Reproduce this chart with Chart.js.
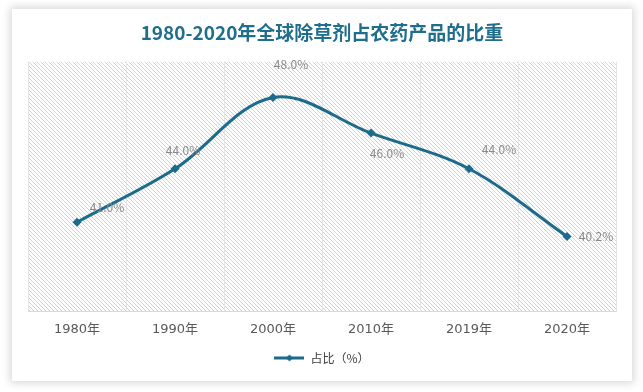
<!DOCTYPE html>
<html>
<head>
<meta charset="utf-8">
<script src="https://cdn.jsdelivr.net/npm/chart.js@4"></script>
<style>
  html, body { margin: 0; padding: 0; background: #ffffff; width: 643px; height: 392px; overflow: hidden; }
  #card { position: absolute; left: 12px; top: 9px; width: 620px; height: 372px; background: #fff;
          box-shadow: 0 0 8px 2px rgba(0,0,0,0.16); }
  canvas { display: block; }
</style>
</head>
<body>
<div id="card"><canvas id="c" width="620" height="372"></canvas></div>
<script>
const categories = ['1980年', '1990年', '2000年', '2010年', '2019年', '2020年'];
const shareValues = [41.0, 44.0, 48.0, 46.0, 44.0, 40.2];
const seriesName = '占比（%）';
const chartTitle = '1980-2020年全球除草剂占农药产品的比重';

const LINE = '#1c6b8c';
const FONT = '"Noto Sans CJK SC", "Noto Sans", sans-serif';
const TICK_FONT = '"DejaVu Sans", "Noto Sans CJK SC", sans-serif';

// hatch pattern
function makePattern(ctx) {
  const p = document.createElement('canvas');
  p.width = 4; p.height = 4;
  const g = p.getContext('2d');
  g.fillStyle = '#ffffff';
  g.fillRect(0, 0, 4, 4);
  g.strokeStyle = '#d2d2d2';
  g.lineWidth = 1;
  g.beginPath();
  g.moveTo(-1, -1); g.lineTo(5, 5);
  g.moveTo(-1, 3); g.lineTo(1, 5);
  g.moveTo(3, -1); g.lineTo(5, 1);
  g.stroke();
  return ctx.createPattern(p, 'repeat');
}

// legend symbol: line with diamond
function legendSymbol() {
  const c = document.createElement('canvas');
  c.width = 30; c.height = 10;
  const g = c.getContext('2d');
  g.strokeStyle = LINE; g.lineWidth = 3;
  g.beginPath(); g.moveTo(0, 5); g.lineTo(30, 5); g.stroke();
  g.fillStyle = LINE;
  g.beginPath(); g.moveTo(15, 1.5); g.lineTo(18.5, 5); g.lineTo(15, 8.5); g.lineTo(11.5, 5); g.closePath(); g.fill();
  return c;
}
const symbol = legendSymbol();

const bgPlugin = {
  id: 'hatchBg',
  beforeDraw(chart) {
    const { ctx, chartArea: a } = chart;
    ctx.save();
    ctx.fillStyle = makePattern(ctx);
    ctx.fillRect(a.left, a.top, a.right - a.left, a.bottom - a.top);
    ctx.restore();
  }
};

// label offsets relative to each point (dx, dy)
const labelOffsets = [[30, -15], [8, -18], [18, -33], [16, 20], [30, -19], [29, 0]];
const labelPlugin = {
  id: 'valueLabels',
  afterDatasetsDraw(chart) {
    const { ctx } = chart;
    const meta = chart.getDatasetMeta(0);
    ctx.save();
    ctx.font = '12px ' + FONT;
    ctx.fillStyle = '#8a8a8a';
    ctx.textAlign = 'center';
    ctx.textBaseline = 'middle';
    meta.data.forEach((pt, i) => {
      const v = chart.data.datasets[0].data[i];
      const o = labelOffsets[i];
      ctx.fillText(v.toFixed(1) + '%', pt.x + o[0], pt.y + o[1]);
    });
    ctx.restore();
  }
};

new Chart(document.getElementById('c'), {
  type: 'line',
  data: {
    labels: categories,
    datasets: [{
      label: seriesName,
      data: shareValues,
      borderColor: LINE,
      backgroundColor: LINE,
      borderWidth: 3,
      tension: 0.35,
      pointStyle: 'rectRot',
      pointRadius: 4.5,
      pointBackgroundColor: LINE,
      pointBorderColor: LINE,
      pointBorderWidth: 0,
      fill: false
    }]
  },
  options: {
    responsive: false,
    animation: false,
    devicePixelRatio: 1,
    layout: { padding: { left: 16, right: 16, top: 0, bottom: 7 } },
    plugins: {
      title: {
        display: true,
        text: chartTitle,
        color: '#1f6e8e',
        font: { family: FONT, size: 19, weight: 'bold' },
        padding: { top: 12, bottom: 18 }
      },
      legend: {
        display: true,
        position: 'bottom',
        labels: {
          color: '#404040',
          font: { family: FONT, size: 12 },
          usePointStyle: true,
          pointStyleWidth: 30,
          padding: 5,
          generateLabels: (chart) => [{
            text: seriesName,
            pointStyle: symbol,
            fillStyle: LINE,
            strokeStyle: LINE,
            lineWidth: 0,
            fontColor: '#404040',
            datasetIndex: 0,
            hidden: false
          }]
        }
      },
      tooltip: { enabled: false }
    },
    scales: {
      x: {
        offset: true,
        grid: { display: true, offset: true, color: '#e4e4e4', drawTicks: false },
        border: { display: true, color: '#d9d9d9', width: 1 },
        ticks: { color: '#595959', font: { family: TICK_FONT, size: 13 }, padding: 10 }
      },
      y: {
        display: false,
        min: 36,
        max: 50
      }
    }
  },
  plugins: [bgPlugin, labelPlugin]
});
</script>
</body>
</html>
